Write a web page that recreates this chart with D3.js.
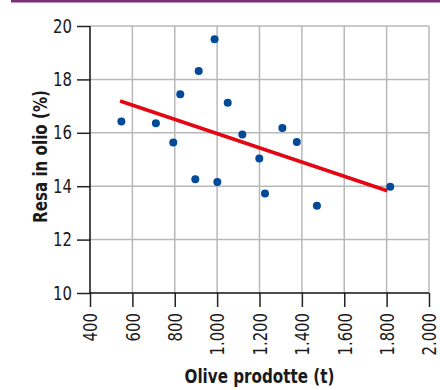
<!DOCTYPE html>
<html>
    <head>
        <meta charset="UTF-8">
        <script src="https://d3js.org/d3.v7.min.js"></script>
        <style>
            body { margin: 0; background: white; }
            svg { display: block; }
            text {
                font-family: "DejaVu Sans Condensed", "Liberation Sans Narrow", sans-serif;
                fill: #1a1a1a;
            }
            .title { font-weight: bold; font-size: 19px; }
            .tick text { font-size: 19px; }
        </style>
    </head>
    <body>
        <svg id="svg1" width="440" height="390"></svg>
    </body>
    <script>
        // olive produced (t) and oil yield (%)
        const olive = [548, 711, 793, 826, 897, 913, 988, 1001, 1050, 1119, 1199, 1226, 1308, 1376, 1471, 1817]
        const yieldPct = [16.42, 16.36, 15.64, 17.44, 14.26, 18.31, 19.5, 14.16, 17.13, 15.94, 15.04, 13.73, 16.18, 15.66, 13.27, 13.98]
        // trend line end points
        const trendX = [542, 1803]
        const trendY = [17.19, 13.83]
        const xTicks = [400, 600, 800, 1000, 1200, 1400, 1600, 1800, 2000]
        const yTicks = [10, 12, 14, 16, 18, 20]

        const svg = d3.select('#svg1')
        const margin = { top: 26, left: 90, right: 11, bottom: 97 }
        const width = 440, height = 390
        const innerWidth = width - margin.left - margin.right
        const innerHeight = height - margin.top - margin.bottom

        // purple rule at the top
        svg.append('rect')
            .attr('x', 11).attr('y', 0)
            .attr('width', 429).attr('height', 2.5)
            .style('fill', '#7b2f7a')

        const g = svg.append('g')
            .attr('transform', `translate(${margin.left},${margin.top})`)

        const xScale = d3.scaleLinear().domain([400, 2000]).range([0, innerWidth])
        const yScale = d3.scaleLinear().domain([10, 20]).range([innerHeight, 0])

        // grid
        g.append('g').selectAll('line')
            .data(xTicks.slice(1))
            .enter().append('line')
            .attr('x1', d => xScale(d)).attr('x2', d => xScale(d))
            .attr('y1', 0).attr('y2', innerHeight)
            .style('stroke', '#b8b8b8').style('stroke-width', 1.5)
        g.append('g').selectAll('line')
            .data(yTicks.slice(1))
            .enter().append('line')
            .attr('x1', 0).attr('x2', innerWidth)
            .attr('y1', d => yScale(d)).attr('y2', d => yScale(d))
            .style('stroke', '#b8b8b8').style('stroke-width', 1.5)

        // axes
        const fmt = d => d3.format(',')(d).replace(',', '.')
        const xAxis = d3.axisBottom(xScale).tickValues(xTicks).tickSize(14).tickFormat(fmt)
        const gx = g.append('g')
            .attr('transform', `translate(0,${innerHeight})`)
            .call(xAxis)
        gx.select('.domain').remove()
        gx.selectAll('.tick line').style('stroke', '#222').style('stroke-width', 1.5)
        gx.selectAll('.tick text')
            .attr('transform', 'rotate(-90)')
            .attr('x', -20).attr('y', 0).attr('dy', '0.36em')
            .attr('text-anchor', 'end')

        const yAxis = d3.axisLeft(yScale).tickValues(yTicks).tickSize(13).tickPadding(5)
        const gy = g.append('g').call(yAxis)
        gy.select('.domain').remove()
        gy.selectAll('.tick line').style('stroke', '#222').style('stroke-width', 1.5)

        // squeeze tick labels a bit, the original uses a narrow face
        svg.selectAll('.tick text').each(function() {
            const w = this.getComputedTextLength()
            d3.select(this).attr('textLength', w * 0.87).attr('lengthAdjust', 'spacingAndGlyphs')
        })

        g.append('line')
            .attr('x1', 0).attr('x2', 0).attr('y1', 0).attr('y2', innerHeight)
            .style('stroke', '#111').style('stroke-width', 1.5)
        g.append('line')
            .attr('x1', 0).attr('x2', innerWidth).attr('y1', innerHeight).attr('y2', innerHeight)
            .style('stroke', '#111').style('stroke-width', 1.5)

        // trend line
        g.append('line')
            .attr('x1', xScale(trendX[0])).attr('y1', yScale(trendY[0]))
            .attr('x2', xScale(trendX[1])).attr('y2', yScale(trendY[1]))
            .style('stroke', '#e30613').style('stroke-width', 3.6)

        // points
        g.selectAll('circle')
            .data(olive)
            .enter().append('circle')
            .attr('cx', d => xScale(d))
            .attr('cy', (d, i) => yScale(yieldPct[i]))
            .attr('r', 4)
            .style('fill', '#004a98')

        // axis titles
        g.append('text')
            .attr('class', 'title')
            .attr('x', innerWidth / 2)
            .attr('y', 383 - margin.top)
            .attr('text-anchor', 'middle')
            .attr('textLength', 150).attr('lengthAdjust', 'spacingAndGlyphs')
            .text('Olive prodotte (t)')

        g.append('text')
            .attr('class', 'title')
            .attr('transform', 'rotate(-90)')
            .attr('x', -innerHeight / 2 + 3)
            .attr('y', -43)
            .attr('text-anchor', 'middle')
            .attr('textLength', 133).attr('lengthAdjust', 'spacingAndGlyphs')
            .text('Resa in olio (%)')
    </script>
</html>
